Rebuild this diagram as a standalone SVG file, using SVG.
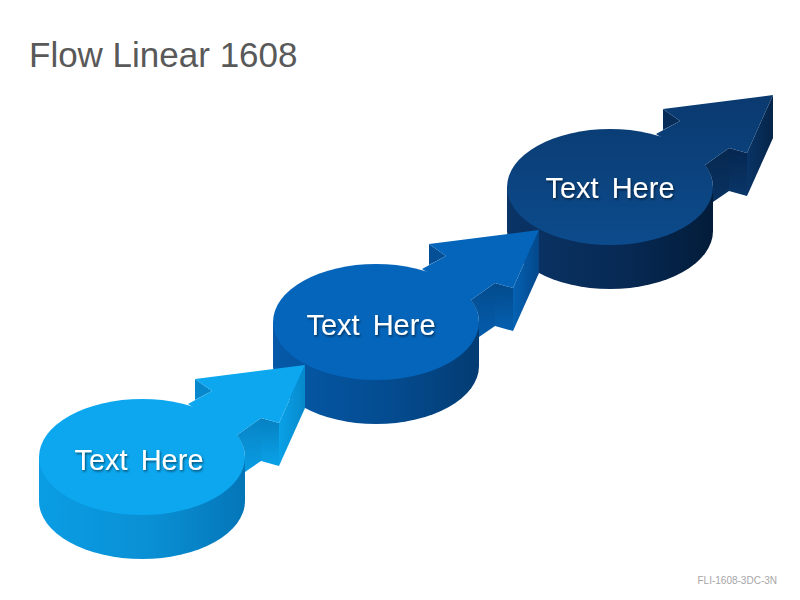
<svg xmlns="http://www.w3.org/2000/svg" width="800" height="600" viewBox="0 0 800 600">
<defs>
  <linearGradient id="side1" x1="0" y1="0" x2="1" y2="0">
    <stop offset="0" stop-color="#0A9DE4"/><stop offset="0.55" stop-color="#0A8FD4"/><stop offset="1" stop-color="#0476B8"/>
  </linearGradient>
  <linearGradient id="side2" x1="0" y1="0" x2="1" y2="0">
    <stop offset="0" stop-color="#0559A8"/><stop offset="0.55" stop-color="#044C91"/><stop offset="1" stop-color="#033C73"/>
  </linearGradient>
  <linearGradient id="side3" x1="0" y1="0" x2="1" y2="0">
    <stop offset="0" stop-color="#0A3466"/><stop offset="0.55" stop-color="#072A55"/><stop offset="1" stop-color="#031C3A"/>
  </linearGradient>
  <linearGradient id="top3" gradientUnits="userSpaceOnUse" x1="0" y1="370" x2="0" y2="515">
    <stop offset="0" stop-color="#0A3A70"/><stop offset="1" stop-color="#0C4B8C"/>
  </linearGradient>
  <linearGradient id="de1" x1="0" y1="0" x2="1" y2="0"><stop offset="0" stop-color="#0AA2E8"/><stop offset="1" stop-color="#0788CC"/></linearGradient>
  <linearGradient id="ef1" x1="0" y1="0" x2="0" y2="1"><stop offset="0" stop-color="#0680C2"/><stop offset="1" stop-color="#0AA2E8"/></linearGradient>
  <linearGradient id="fg1" x1="0" y1="0" x2="0" y2="1"><stop offset="0" stop-color="#0784C6"/><stop offset="1" stop-color="#0A9CE2"/></linearGradient>
  <linearGradient id="de2" x1="0" y1="0" x2="1" y2="0"><stop offset="0" stop-color="#0562B3"/><stop offset="1" stop-color="#03478A"/></linearGradient>
  <linearGradient id="ef2" x1="0" y1="0" x2="0" y2="1"><stop offset="0" stop-color="#034A8C"/><stop offset="1" stop-color="#0560B0"/></linearGradient>
  <linearGradient id="fg2" x1="0" y1="0" x2="0" y2="1"><stop offset="0" stop-color="#034C8E"/><stop offset="1" stop-color="#055CAB"/></linearGradient>
  <linearGradient id="de3" x1="0" y1="0" x2="1" y2="0"><stop offset="0" stop-color="#093466"/><stop offset="1" stop-color="#052448"/></linearGradient>
  <linearGradient id="ef3" x1="0" y1="0" x2="0" y2="1"><stop offset="0" stop-color="#052650"/><stop offset="1" stop-color="#0A3668"/></linearGradient>
  <linearGradient id="fg3" x1="0" y1="0" x2="0" y2="1"><stop offset="0" stop-color="#06284F"/><stop offset="1" stop-color="#093262"/></linearGradient>
  <filter id="ts" x="-10%" y="-30%" width="125%" height="170%">
    <feDropShadow dx="1" dy="1.5" stdDeviation="1.2" flood-color="#000" flood-opacity="0.55"/>
  </filter>
</defs>
<style>
  .title{font-family:"Liberation Sans",Arial,sans-serif;font-size:35px;fill:#595959}
  .lbl{font-family:"Liberation Sans",Arial,sans-serif;font-size:29px;word-spacing:5px;fill:#ffffff;text-anchor:middle;filter:url(#ts)}
  .foot{font-family:"Liberation Sans",Arial,sans-serif;font-size:10px;fill:#A6A6A6;text-anchor:end}
</style>
<rect width="800" height="600" fill="#ffffff"/>
<text class="title" x="29" y="67">Flow Linear 1608</text>
<g id="nodes">
  <g id="node3" transform="translate(468,-270)">
    <path d="M39,457 L39,501 A103,58 0 0 0 245,501 L245,457 Z" fill="url(#side3)"/>
    <ellipse cx="142" cy="457" rx="103" ry="58" fill="url(#top3)"/>
    <text class="lbl" x="142" y="468">Text Here</text>
  </g>
  <g id="node2" transform="translate(234,-135)">
    <path d="M39,457 L39,501 A103,58 0 0 0 245,501 L245,457 Z" fill="url(#side2)"/>
    <ellipse cx="142" cy="457" rx="103" ry="58" fill="#0565BA"/>
    <text class="lbl" x="137" y="470">Text Here</text>
  </g>
  <g id="node1">
    <path d="M39,457 L39,501 A103,58 0 0 0 245,501 L245,457 Z" fill="url(#side1)"/>
    <ellipse cx="142" cy="457" rx="103" ry="58" fill="#0CA7EF"/>
    <text class="lbl" x="139" y="470">Text Here</text>
  </g>
</g>
<g id="connectors">
  <g id="arrow3" transform="translate(468,-270)">
    <path d="M195,379 L212,391 L195,400 Z" fill="#072C58"/>
    <path d="M237,435 L261,418 L261,461 L245,472 L245,457 A103,58 0 0 0 237,435 Z" fill="url(#fg3)"/>
    <path d="M261,418 L279,423 L279,466 L261,461 Z" fill="url(#ef3)"/>
    <path d="M305,365 L279,423 L279,466 L305,408 Z" fill="url(#de3)"/>
    <path d="M188,404 L212,391 L195,379 L305,365 L279,423 L261,418 L237,435 Z" fill="url(#top3)"/>
  </g>
  <g id="arrow2" transform="translate(234,-135)">
    <path d="M195,379 L212,391 L195,400 Z" fill="#044F95"/>
    <path d="M237,435 L261,418 L261,461 L245,472 L245,457 A103,58 0 0 0 237,435 Z" fill="url(#fg2)"/>
    <path d="M261,418 L279,423 L279,466 L261,461 Z" fill="url(#ef2)"/>
    <path d="M305,365 L279,423 L279,466 L305,408 Z" fill="url(#de2)"/>
    <path d="M188,404 L212,391 L195,379 L305,365 L279,423 L261,418 L237,435 Z" fill="#0565BA"/>
  </g>
  <g id="arrow1">
    <path d="M195,379 L212,391 L195,400 Z" fill="#0888CC"/>
    <path d="M237,435 L261,418 L261,461 L245,472 L245,457 A103,58 0 0 0 237,435 Z" fill="url(#fg1)"/>
    <path d="M261,418 L279,423 L279,466 L261,461 Z" fill="url(#ef1)"/>
    <path d="M305,365 L279,423 L279,466 L305,408 Z" fill="url(#de1)"/>
    <path d="M188,404 L212,391 L195,379 L305,365 L279,423 L261,418 L237,435 Z" fill="#0CA7EF"/>
  </g>
</g>
<text class="foot" x="777" y="584">FLI-1608-3DC-3N</text>
</svg>
